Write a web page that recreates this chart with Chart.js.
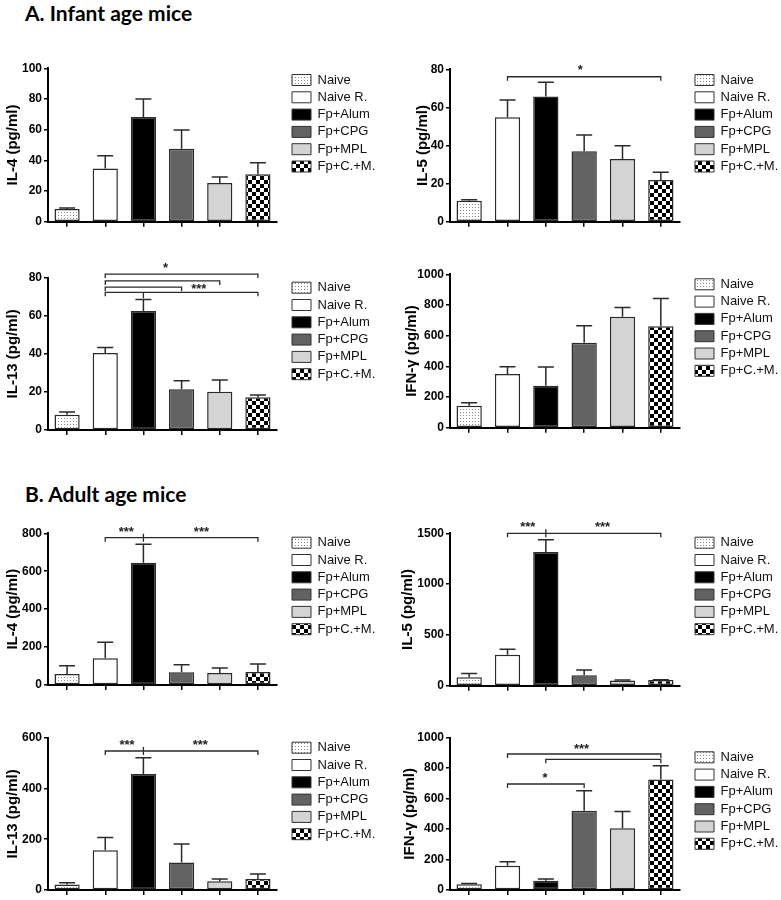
<!DOCTYPE html>
<html>
<head>
<meta charset="utf-8">
<script src="https://cdn.jsdelivr.net/npm/chart.js@4.4.0/dist/chart.umd.min.js"></script>
<style>
  body { margin: 0; background: #fff; width: 781px; height: 900px; position: relative; overflow: hidden; }
  .sec { position: absolute; left: 25px; font: bold 21px Lato, sans-serif; line-height: 24px; color: #000; white-space: nowrap; }
  canvas { position: absolute; }
</style>
</head>
<body>
<div class="sec" style="top:1px">A. Infant age mice</div>
<div class="sec" style="top:482px">B. Adult age mice</div>

<script>
const groups = ["Naive", "Naive R.", "Fp+Alum", "Fp+CPG", "Fp+MPL", "Fp+C.+M."];

// infant mice (means and upper SEM)
const infantIL4 = [8.3, 34.7, 68.3, 47.5, 25.3, 31];
const infantIL4Err = [0.7, 8.3, 11.7, 12.3, 3.9, 7.5];
const infantIL5 = [11, 54.8, 65.7, 37, 32.9, 21.9];
const infantIL5Err = [0.5, 9.1, 7.5, 8.5, 7, 4.1];
const infantIL13 = [8, 40.5, 62.5, 21.4, 20.1, 17.2];
const infantIL13Err = [1.5, 2.8, 6, 4.5, 6.2, 1.2];
const infantIFN = [143, 350, 274, 554, 724, 661];
const infantIFNErr = [20, 48, 122, 111, 59, 182];

// adult mice
const adultIL4 = [58, 141, 645, 67, 63, 69];
const adultIL4Err = [44, 84, 97, 40, 27, 42];
const adultIL5 = [82, 305, 1316, 102, 52, 56];
const adultIL5Err = [39, 53, 121, 52, 4, 3];
const adultIL13 = [22, 157, 457, 108, 34, 43];
const adultIL13Err = [7, 50, 64, 73, 9, 20];
const adultIFN = [37, 160, 61, 521, 405, 726];
const adultIFNErr = [5, 26, 11, 131, 111, 90];

// significance brackets: group index range and level in data units
const infantIL5Sig = [{ from: 1, to: 5, level: 76.1 }];
const infantIL5Stars = [{ x: 2.9, level: 79.3, text: "*" }];
const infantIL13Sig = [
  { from: 1, to: 5, level: 81.9 },
  { from: 1, to: 4, level: 78.3 },
  { from: 1, to: 3, level: 75 },
  { from: 1, to: 5, level: 72.3, down: 2 }
];
const infantIL13Stars = [{ x: 2.58, level: 84.9, text: "*" }, { x: 3.45, level: 73.6, text: "***" }];
const adultIL4Sig = [{ from: 1, to: 5, level: 777, mid: 2 }];
const adultIL4Stars = [{ x: 1.55, level: 805, text: "***" }, { x: 3.52, level: 805, text: "***" }];
const adultIL5Sig = [{ from: 1, to: 5, level: 1500, mid: 2 }];
const adultIL5Stars = [{ x: 1.53, level: 1555, text: "***" }, { x: 3.48, level: 1555, text: "***" }];
const adultIL13Sig = [{ from: 1, to: 5, level: 547.6, mid: 2 }];
const adultIL13Stars = [{ x: 1.57, level: 568.5, text: "***" }, { x: 3.49, level: 568.5, text: "***" }];
const adultIFNSig = [
  { from: 1, to: 5, level: 893 },
  { from: 2, to: 5, level: 858 },
  { from: 1, to: 3, level: 696 }
];
const adultIFNStars = [{ x: 2.93, level: 924, text: "***" }, { x: 1.98, level: 733, text: "*" }];

Chart.defaults.font.family = '"Liberation Sans", Arial, sans-serif';
Chart.defaults.color = "#000";

function makePattern(kind) {
  const c = document.createElement("canvas");
  const g = c.getContext("2d");
  if (kind === "dots") {
    c.width = 3; c.height = 3;
    g.fillStyle = "#fff"; g.fillRect(0, 0, 3, 3);
    g.fillStyle = "#8c8c8c"; g.fillRect(1, 1, 1, 1);
  } else {
    c.width = 8; c.height = 8;
    g.fillStyle = "#fff"; g.fillRect(0, 0, 8, 8);
    g.fillStyle = "#000"; g.fillRect(0, 0, 4, 4); g.fillRect(4, 4, 4, 4);
  }
  return g.createPattern(c, "repeat");
}

const fills = [makePattern("dots"), "#ffffff", "#000000", "#626262", "#d4d4d4", makePattern("checker")];

// error bars + brackets
const extras = {
  id: "extras",
  afterDatasetsDraw(chart, args, opts) {
    const ctx = chart.ctx;
    const xs = chart.scales.x, ys = chart.scales.y;
    const meta = chart.getDatasetMeta(0);
    ctx.save();
    ctx.strokeStyle = "#2a2a2a";
    ctx.lineWidth = 1.5;
    opts.err.forEach((e, i) => {
      const bar = meta.data[i];
      const top = ys.getPixelForValue(opts.values[i] + e);
      ctx.beginPath();
      ctx.moveTo(bar.x, bar.y);
      ctx.lineTo(bar.x, top);
      ctx.moveTo(bar.x - 8, top);
      ctx.lineTo(bar.x + 8, top);
      ctx.stroke();
    });
    ctx.lineWidth = 1.3;
    opts.brackets.forEach(b => {
      const x1 = xs.getPixelForValue(b.from), x2 = xs.getPixelForValue(b.to);
      const y = ys.getPixelForValue(b.level);
      ctx.beginPath();
      ctx.moveTo(x1, y + 4); ctx.lineTo(x1, y); ctx.lineTo(x2, y); ctx.lineTo(x2, y + 4);
      if (b.mid != null) {
        const xm = xs.getPixelForValue(b.mid);
        ctx.moveTo(xm, y - 4); ctx.lineTo(xm, y + 4);
      }
      if (b.down != null) {
        const xd = xs.getPixelForValue(b.down);
        ctx.moveTo(xd, y); ctx.lineTo(xd, y + 6);
      }
      ctx.stroke();
    });
    ctx.fillStyle = "#222";
    ctx.font = 'bold 13px "Liberation Sans", Arial, sans-serif';
    ctx.textAlign = "center";
    ctx.textBaseline = "middle";
    opts.stars.forEach(s => {
      ctx.fillText(s.text, xs.getPixelForValue(s.x), ys.getPixelForValue(s.level));
    });
    ctx.restore();
  }
};

// fixed legend width and position
const legendPlace = {
  id: "legendPlace",
  beforeLayout(chart, args, opts) {
    const lg = chart.legend;
    if (lg && !lg._fixed) {
      const fit = lg.fit.bind(lg);
      lg.fit = function () { fit(); this.width = opts.width; };
      lg._fixed = true;
    }
  },
  afterLayout(chart, args, opts) {
    const lg = chart.legend;
    lg.left = opts.x; lg.right = opts.x + lg.width;
    lg.top = opts.y; lg.bottom = opts.y + 200;
  }
};

const panels = [
  { values: infantIL4, err: infantIL4Err, max: 100, step: 20, title: "IL-4 (pg/ml)", brackets: [], stars: [],
    col: 0, top: 68.3, bottom: 221.7, legendY: 80, titleX: 13 },
  { values: infantIL5, err: infantIL5Err, max: 80, step: 20, title: "IL-5 (pg/ml)", brackets: infantIL5Sig, stars: infantIL5Stars,
    col: 1, top: 69.3, bottom: 221.7, legendY: 80, titleX: 423 },
  { values: infantIL13, err: infantIL13Err, max: 80, step: 20, title: "IL-13 (pg/ml)", brackets: infantIL13Sig, stars: infantIL13Stars,
    col: 0, top: 277.7, bottom: 430, legendY: 287.7, titleX: 13 },
  { values: infantIFN, err: infantIFNErr, max: 1000, step: 200, title: "IFN-\u03b3 (pg/ml)", brackets: [], stars: [],
    col: 1, top: 274.3, bottom: 427.7, legendY: 284.3, titleX: 412 },
  { values: adultIL4, err: adultIL4Err, max: 800, step: 200, title: "IL-4 (pg/ml)", brackets: adultIL4Sig, stars: adultIL4Stars,
    col: 0, top: 533.3, bottom: 685, legendY: 542.7, titleX: 13 },
  { values: adultIL5, err: adultIL5Err, max: 1500, step: 500, title: "IL-5 (pg/ml)", brackets: adultIL5Sig, stars: adultIL5Stars,
    col: 1, top: 533.3, bottom: 685.7, legendY: 542.7, titleX: 408 },
  { values: adultIL13, err: adultIL13Err, max: 600, step: 200, title: "IL-13 (pg/ml)", brackets: adultIL13Sig, stars: adultIL13Stars,
    col: 0, top: 737.7, bottom: 890, legendY: 747.7, titleX: 13 },
  { values: adultIFN, err: adultIFNErr, max: 1000, step: 200, title: "IFN-\u03b3 (pg/ml)", brackets: adultIFNSig, stars: adultIFNStars,
    col: 1, top: 737.7, bottom: 890, legendY: 757.3, titleX: 410 }
];

const LEGEND_PAD = 4.3;
const X_AXIS_H = 8;

panels.forEach(p => {
  const cLeft = p.col === 0 ? 0 : 390;
  const cW = p.col === 0 ? 390 : 391;
  const areaLeft = p.col === 0 ? 48 : 450;
  const areaRight = p.col === 0 ? 277 : 680;
  const legendBoxX = p.col === 0 ? 292 : 695;
  const cTop = Math.floor(p.top) - 40;
  const cH = Math.ceil(p.bottom) + 14 - cTop;

  const canvas = document.createElement("canvas");
  canvas.width = cW;
  canvas.height = cH;
  canvas.style.left = cLeft + "px";
  canvas.style.top = cTop + "px";
  document.body.appendChild(canvas);

  new Chart(canvas.getContext("2d"), {
    type: "bar",
    data: {
      labels: groups,
      datasets: [{
        data: p.values,
        backgroundColor: fills,
        borderColor: "#2a2a2a",
        borderWidth: 1.5,
        borderSkipped: false,
        barPercentage: 0.66,
        categoryPercentage: 1
      }]
    },
    options: {
      responsive: false,
      animation: false,
      devicePixelRatio: 1,
      layout: {
        padding: { top: p.top - cTop, bottom: cH - (p.bottom - cTop) - X_AXIS_H, left: 0, right: 0 }
      },
      plugins: {
        tooltip: { enabled: false },
        legend: {
          position: "right",
          align: "start",
          labels: {
            boxWidth: 19,
            boxHeight: 11,
            padding: LEGEND_PAD,
            color: "#111",
            font: { size: 13 },
            generateLabels: () => groups.map((g, i) => ({
              text: g, fillStyle: fills[i], strokeStyle: "#333", lineWidth: 1,
              hidden: false, index: i, fontColor: "#111"
            }))
          }
        },
        legendPlace: {
          width: cLeft + cW - areaRight,
          x: legendBoxX - cLeft - LEGEND_PAD,
          y: p.legendY - cTop - 6.5 - LEGEND_PAD
        },
        extras: { values: p.values, err: p.err, brackets: p.brackets, stars: p.stars }
      },
      scales: {
        x: {
          offset: true,
          grid: { display: true, offset: false, drawOnChartArea: false, drawTicks: true, tickLength: 5, color: "#000", lineWidth: 1.5 },
          border: { display: true, color: "#000", width: 2 },
          ticks: { display: false },
          afterFit: s => { s.height = X_AXIS_H; }
        },
        y: {
          min: 0,
          max: p.max,
          grid: { display: true, drawOnChartArea: false, drawTicks: true, tickLength: 4, color: "#000", lineWidth: 1.5 },
          border: { display: true, color: "#000", width: 2 },
          ticks: {
            stepSize: p.step, padding: 2, color: "#000",
            font: { size: 12, weight: "bold" },
            callback: v => String(v)
          },
          title: {
            display: true,
            text: p.title,
            color: "#000",
            font: { size: 15, weight: "bold" },
            padding: { top: p.titleX - cLeft - 9, bottom: 0 }
          },
          afterFit: s => { s.width = areaLeft - cLeft; }
        }
      }
    },
    plugins: [extras, legendPlace]
  });
});
</script>
</body>
</html>
